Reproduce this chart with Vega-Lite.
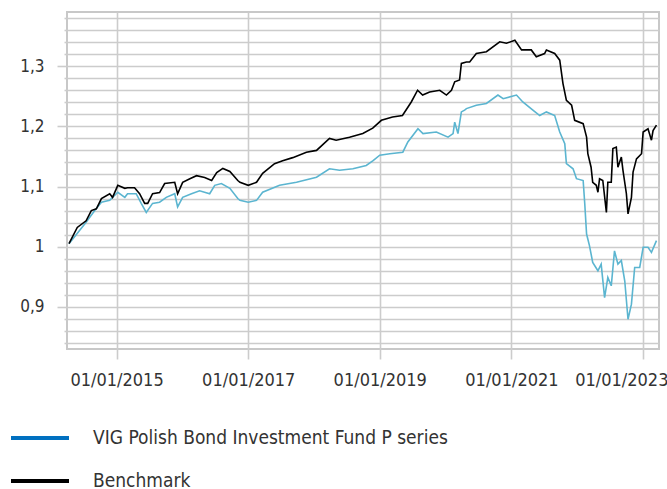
{
  "$schema": "https://vega.github.io/schema/vega-lite/v6.json",
  "width": 592,
  "height": 337,
  "autosize": {"type": "none"},
  "padding": {"left": 67, "top": 12, "right": 8, "bottom": 140},
  "background": "#ffffff",
  "config": {
    "view": {"stroke": "#c8c8c8", "strokeWidth": 2},
    "font": "DejaVu Sans Condensed, sans-serif"
  },
  "datasets": {
    "fund": [
      {"date": "2014-04-12", "value": 1.005},
      {"date": "2014-07-16", "value": 1.0405},
      {"date": "2014-09-02", "value": 1.060},
      {"date": "2014-10-09", "value": 1.074},
      {"date": "2014-11-24", "value": 1.077},
      {"date": "2015-01-08", "value": 1.0905},
      {"date": "2015-02-16", "value": 1.082},
      {"date": "2015-03-03", "value": 1.088},
      {"date": "2015-04-20", "value": 1.088},
      {"date": "2015-05-18", "value": 1.072},
      {"date": "2015-06-15", "value": 1.057},
      {"date": "2015-07-20", "value": 1.072},
      {"date": "2015-08-28", "value": 1.074},
      {"date": "2015-10-04", "value": 1.082},
      {"date": "2015-11-20", "value": 1.088},
      {"date": "2015-12-06", "value": 1.066},
      {"date": "2016-01-03", "value": 1.082},
      {"date": "2016-02-21", "value": 1.088},
      {"date": "2016-04-06", "value": 1.093},
      {"date": "2016-06-01", "value": 1.088},
      {"date": "2016-06-29", "value": 1.102},
      {"date": "2016-08-05", "value": 1.105},
      {"date": "2016-09-21", "value": 1.097},
      {"date": "2016-11-04", "value": 1.080},
      {"date": "2016-11-16", "value": 1.077},
      {"date": "2017-01-01", "value": 1.074},
      {"date": "2017-02-16", "value": 1.077},
      {"date": "2017-03-22", "value": 1.0905},
      {"date": "2017-06-24", "value": 1.102},
      {"date": "2017-09-26", "value": 1.107},
      {"date": "2018-01-15", "value": 1.1155},
      {"date": "2018-03-28", "value": 1.1295},
      {"date": "2018-05-23", "value": 1.127},
      {"date": "2018-08-05", "value": 1.1295},
      {"date": "2018-10-18", "value": 1.135},
      {"date": "2018-11-25", "value": 1.143},
      {"date": "2019-01-01", "value": 1.152},
      {"date": "2019-02-26", "value": 1.1545},
      {"date": "2019-05-09", "value": 1.157},
      {"date": "2019-06-06", "value": 1.174},
      {"date": "2019-08-01", "value": 1.196},
      {"date": "2019-08-29", "value": 1.188},
      {"date": "2019-11-11", "value": 1.1905},
      {"date": "2020-01-15", "value": 1.182},
      {"date": "2020-02-12", "value": 1.188},
      {"date": "2020-02-21", "value": 1.207},
      {"date": "2020-03-10", "value": 1.188},
      {"date": "2020-03-29", "value": 1.224},
      {"date": "2020-04-16", "value": 1.227},
      {"date": "2020-04-26", "value": 1.2295},
      {"date": "2020-06-20", "value": 1.235},
      {"date": "2020-08-15", "value": 1.238},
      {"date": "2020-10-18", "value": 1.252},
      {"date": "2020-11-16", "value": 1.246},
      {"date": "2021-01-29", "value": 1.252},
      {"date": "2021-03-05", "value": 1.2405},
      {"date": "2021-04-30", "value": 1.227},
      {"date": "2021-06-07", "value": 1.218},
      {"date": "2021-07-14", "value": 1.224},
      {"date": "2021-08-29", "value": 1.218},
      {"date": "2021-09-26", "value": 1.1905},
      {"date": "2021-10-24", "value": 1.171},
      {"date": "2021-11-02", "value": 1.138},
      {"date": "2021-12-09", "value": 1.1295},
      {"date": "2021-12-28", "value": 1.113},
      {"date": "2022-02-03", "value": 1.110},
      {"date": "2022-02-12", "value": 1.071},
      {"date": "2022-02-22", "value": 1.021},
      {"date": "2022-03-10", "value": 1.0017},
      {"date": "2022-03-28", "value": 0.974},
      {"date": "2022-04-26", "value": 0.960},
      {"date": "2022-05-14", "value": 0.971},
      {"date": "2022-06-02", "value": 0.9155},
      {"date": "2022-06-20", "value": 0.949},
      {"date": "2022-07-09", "value": 0.935},
      {"date": "2022-07-27", "value": 0.993},
      {"date": "2022-08-15", "value": 0.971},
      {"date": "2022-09-03", "value": 0.977},
      {"date": "2022-09-22", "value": 0.943},
      {"date": "2022-10-10", "value": 0.8795},
      {"date": "2022-10-29", "value": 0.9045},
      {"date": "2022-11-16", "value": 0.9655},
      {"date": "2022-12-14", "value": 0.9655},
      {"date": "2023-01-02", "value": 0.999},
      {"date": "2023-01-29", "value": 0.999},
      {"date": "2023-02-17", "value": 0.9905},
      {"date": "2023-03-17", "value": 1.010}
    ],
    "bench": [
      {"date": "2014-04-12", "value": 1.005},
      {"date": "2014-05-28", "value": 1.032},
      {"date": "2014-07-16", "value": 1.043},
      {"date": "2014-08-14", "value": 1.060},
      {"date": "2014-09-11", "value": 1.063},
      {"date": "2014-10-09", "value": 1.080},
      {"date": "2014-11-24", "value": 1.088},
      {"date": "2014-12-10", "value": 1.082},
      {"date": "2015-01-08", "value": 1.102},
      {"date": "2015-02-16", "value": 1.097},
      {"date": "2015-03-03", "value": 1.098},
      {"date": "2015-04-11", "value": 1.098},
      {"date": "2015-05-09", "value": 1.088},
      {"date": "2015-06-06", "value": 1.072},
      {"date": "2015-06-23", "value": 1.072},
      {"date": "2015-07-20", "value": 1.088},
      {"date": "2015-08-28", "value": 1.090},
      {"date": "2015-09-25", "value": 1.105},
      {"date": "2015-11-20", "value": 1.107},
      {"date": "2015-12-06", "value": 1.088},
      {"date": "2016-01-03", "value": 1.107},
      {"date": "2016-02-12", "value": 1.113},
      {"date": "2016-03-20", "value": 1.118},
      {"date": "2016-05-04", "value": 1.115},
      {"date": "2016-06-12", "value": 1.110},
      {"date": "2016-07-10", "value": 1.123},
      {"date": "2016-08-13", "value": 1.130},
      {"date": "2016-09-21", "value": 1.125},
      {"date": "2016-11-04", "value": 1.110},
      {"date": "2016-11-16", "value": 1.107},
      {"date": "2017-01-01", "value": 1.102},
      {"date": "2017-02-16", "value": 1.107},
      {"date": "2017-03-22", "value": 1.122},
      {"date": "2017-05-27", "value": 1.138},
      {"date": "2017-07-11", "value": 1.143},
      {"date": "2017-09-05", "value": 1.148},
      {"date": "2017-11-20", "value": 1.157},
      {"date": "2018-01-15", "value": 1.160},
      {"date": "2018-03-28", "value": 1.180},
      {"date": "2018-05-04", "value": 1.177},
      {"date": "2018-07-17", "value": 1.182},
      {"date": "2018-09-29", "value": 1.188},
      {"date": "2018-11-23", "value": 1.197},
      {"date": "2019-01-10", "value": 1.210},
      {"date": "2019-03-13", "value": 1.2155},
      {"date": "2019-05-07", "value": 1.218},
      {"date": "2019-06-25", "value": 1.2405},
      {"date": "2019-07-30", "value": 1.260},
      {"date": "2019-08-27", "value": 1.252},
      {"date": "2019-10-05", "value": 1.257},
      {"date": "2019-11-30", "value": 1.260},
      {"date": "2020-01-06", "value": 1.252},
      {"date": "2020-02-03", "value": 1.260},
      {"date": "2020-02-21", "value": 1.274},
      {"date": "2020-03-19", "value": 1.277},
      {"date": "2020-03-29", "value": 1.3045},
      {"date": "2020-04-26", "value": 1.307},
      {"date": "2020-05-14", "value": 1.307},
      {"date": "2020-06-20", "value": 1.321},
      {"date": "2020-08-15", "value": 1.324},
      {"date": "2020-10-28", "value": 1.3405},
      {"date": "2020-12-04", "value": 1.338},
      {"date": "2021-01-20", "value": 1.343},
      {"date": "2021-02-26", "value": 1.327},
      {"date": "2021-04-21", "value": 1.327},
      {"date": "2021-05-19", "value": 1.3155},
      {"date": "2021-07-04", "value": 1.321},
      {"date": "2021-07-14", "value": 1.327},
      {"date": "2021-08-29", "value": 1.321},
      {"date": "2021-09-26", "value": 1.310},
      {"date": "2021-10-14", "value": 1.271},
      {"date": "2021-11-02", "value": 1.243},
      {"date": "2021-12-01", "value": 1.235},
      {"date": "2021-12-18", "value": 1.210},
      {"date": "2022-02-03", "value": 1.2045},
      {"date": "2022-02-22", "value": 1.182},
      {"date": "2022-03-01", "value": 1.1545},
      {"date": "2022-03-19", "value": 1.132},
      {"date": "2022-03-28", "value": 1.107},
      {"date": "2022-04-17", "value": 1.102},
      {"date": "2022-04-26", "value": 1.0905},
      {"date": "2022-05-05", "value": 1.113},
      {"date": "2022-05-23", "value": 1.110},
      {"date": "2022-06-12", "value": 1.057},
      {"date": "2022-06-20", "value": 1.107},
      {"date": "2022-07-09", "value": 1.107},
      {"date": "2022-07-18", "value": 1.163},
      {"date": "2022-08-06", "value": 1.1655},
      {"date": "2022-08-15", "value": 1.132},
      {"date": "2022-09-03", "value": 1.149},
      {"date": "2022-09-12", "value": 1.127},
      {"date": "2022-10-01", "value": 1.088},
      {"date": "2022-10-10", "value": 1.0545},
      {"date": "2022-10-29", "value": 1.082},
      {"date": "2022-11-07", "value": 1.124},
      {"date": "2022-11-26", "value": 1.146},
      {"date": "2022-12-24", "value": 1.1545},
      {"date": "2023-01-02", "value": 1.1905},
      {"date": "2023-01-29", "value": 1.196},
      {"date": "2023-02-17", "value": 1.177},
      {"date": "2023-02-26", "value": 1.193},
      {"date": "2023-03-17", "value": 1.202}
    ]
  },
  "encoding": {
    "x": {
      "field": "date",
      "type": "temporal",
      "title": null,
      "scale": {"type": "utc", "domain": [{"year": 2014, "month": 4, "date": 1, "utc": true}, {"year": 2023, "month": 3, "date": 31, "utc": true}]},
      "axis": {
        "values": [
          {"year": 2015, "month": 1, "date": 1, "utc": true},
          {"year": 2017, "month": 1, "date": 1, "utc": true},
          {"year": 2019, "month": 1, "date": 1, "utc": true},
          {"year": 2021, "month": 1, "date": 1, "utc": true},
          {"year": 2023, "month": 1, "date": 1, "utc": true}
        ],
        "labelExpr": "utcFormat(datum.value, '%d/%m/%Y')",
        "domain": false,
        "grid": true,
        "gridColor": "#cccccc",
        "gridWidth": 1.6,
        "ticks": true,
        "tickSize": 10,
        "tickColor": "#cccccc",
        "tickWidth": 1.6,
        "labelFontSize": 18,
        "labelColor": "#333333",
        "labelPadding": 12,
        "labelFlush": 30,
        "labelFlushOffset": 25,
        "labelOverlap": false
      }
    },
    "y": {
      "field": "value",
      "type": "quantitative",
      "title": null,
      "scale": {"domain": [0.83, 1.39], "nice": false, "zero": false},
      "axis": {
        "values": [0.84, 0.86, 0.88, 0.9, 0.92, 0.94, 0.96, 0.98, 1.0, 1.02, 1.04, 1.06, 1.08, 1.1, 1.12, 1.14, 1.16, 1.18, 1.2, 1.22, 1.24, 1.26, 1.28, 1.3, 1.32, 1.34, 1.36, 1.38],
        "labelExpr": "abs(datum.value*10-round(datum.value*10))<0.001 ? replace(format(datum.value,'~g'),'.',',') : ''",
        "domain": false,
        "grid": true,
        "gridColor": "#cccccc",
        "gridWidth": 1.6,
        "ticks": true,
        "tickSize": {"condition": {"test": "abs(datum.value*10-round(datum.value*10))<0.001", "value": 10}, "value": 3},
        "tickColor": "#cccccc",
        "tickWidth": 1.6,
        "labelFontSize": 17,
        "labelColor": "#333333",
        "labelPadding": 13,
        "labelOverlap": false
      }
    }
  },
  "layer": [
    {
      "data": {"name": "fund"},
      "mark": {"type": "line", "strokeWidth": 1.6, "color": "#5bb5d0", "clip": true}
    },
    {
      "data": {"name": "bench"},
      "mark": {"type": "line", "strokeWidth": 1.6, "color": "#000000", "clip": true}
    },
    {
      "data": {"name": "bench"},
      "transform": [{"calculate": "'Benchmark'", "as": "series"}],
      "mark": {"type": "line", "opacity": 0, "clip": true},
      "encoding": {
        "color": {
          "field": "series",
          "type": "nominal",
          "scale": {"domain": ["VIG Polish Bond Investment Fund P series", "Benchmark"], "range": ["#0070c0", "#000000"]},
          "legend": {
            "title": null,
            "orient": "none",
            "legendX": -58,
            "legendY": 395,
            "direction": "vertical",
            "symbolType": "stroke",
            "symbolSize": 3364,
            "symbolStrokeWidth": 4,
            "symbolOpacity": 1,
            "labelOffset": 22,
            "labelFontSize": 19,
            "labelColor": "#333333",
            "labelLimit": 0,
            "rowPadding": 2
          }
        }
      }
    }
  ]
}
